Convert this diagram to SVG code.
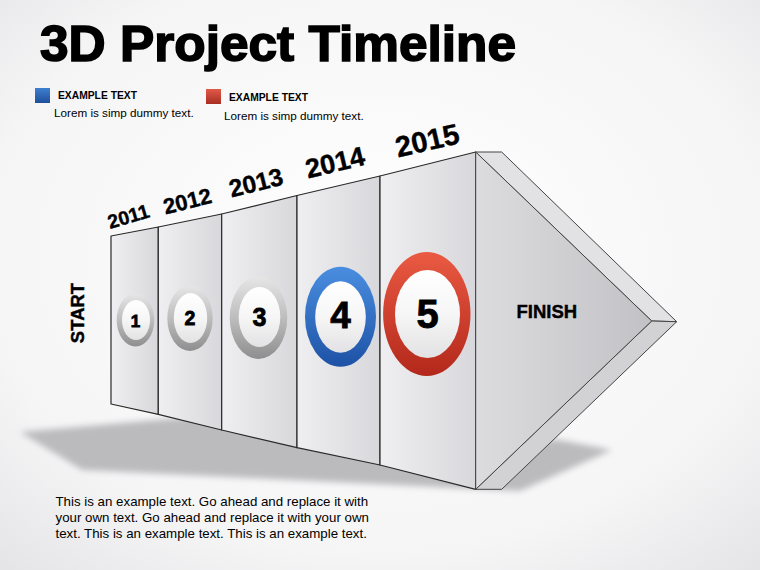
<svg xmlns="http://www.w3.org/2000/svg" width="760" height="570" viewBox="0 0 760 570">
<defs>
<radialGradient id="bg" cx="0.5" cy="0.45" r="0.75">
<stop offset="0" stop-color="#ffffff"/><stop offset="0.7" stop-color="#f5f5f6"/><stop offset="1" stop-color="#e4e4e6"/>
</radialGradient>
<linearGradient id="panel" x1="0" y1="0" x2="1" y2="0">
<stop offset="0" stop-color="#efeff1"/><stop offset="1" stop-color="#d8d8dc"/>
</linearGradient>
<linearGradient id="tri" x1="0" y1="0" x2="1" y2="0">
<stop offset="0" stop-color="#dcdcdf"/><stop offset="1" stop-color="#c2c2c6"/>
</linearGradient>
<linearGradient id="grayRing" x1="0" y1="0" x2="0" y2="1">
<stop offset="0" stop-color="#e6e6e6"/><stop offset="0.5" stop-color="#bdbdbd"/><stop offset="1" stop-color="#8e8e8e"/>
</linearGradient>
<linearGradient id="blueRing" x1="0" y1="0" x2="0" y2="1">
<stop offset="0" stop-color="#4a8ee0"/><stop offset="1" stop-color="#1d52a6"/>
</linearGradient>
<linearGradient id="redRing" x1="0" y1="0" x2="0" y2="1">
<stop offset="0" stop-color="#ea5a43"/><stop offset="1" stop-color="#b3281b"/>
</linearGradient>
<linearGradient id="inner" x1="0" y1="0" x2="0" y2="1">
<stop offset="0" stop-color="#ffffff"/><stop offset="0.5" stop-color="#f6f6f6"/><stop offset="1" stop-color="#e2e2e4"/>
</linearGradient>
<linearGradient id="blueSq" x1="0" y1="0" x2="0" y2="1">
<stop offset="0" stop-color="#3f7fd0"/><stop offset="1" stop-color="#1f4f9a"/>
</linearGradient>
<linearGradient id="redSq" x1="0" y1="0" x2="0" y2="1">
<stop offset="0" stop-color="#e05a48"/><stop offset="1" stop-color="#a82e22"/>
</linearGradient>
<filter id="blur" x="-0.1" y="-0.3" width="1.2" height="1.6"><feGaussianBlur stdDeviation="3"/></filter>
</defs>
<style>
.t{font-family:"Liberation Sans",Arial,sans-serif;fill:#000}
.b{font-weight:bold}
.panel{fill:url(#panel);stroke:#2a2a2a;stroke-width:1.2;stroke-linejoin:round}
.bevel{stroke:#444;stroke-width:1;stroke-linejoin:round}
.inner{fill:url(#inner)}
.num{font-family:"Liberation Sans",Arial,sans-serif;font-weight:bold;fill:#000;stroke:#000;stroke-width:0.8;text-anchor:middle}
.yr{font-family:"Liberation Sans",Arial,sans-serif;font-weight:bold;fill:#000;stroke:#000;stroke-width:0.4}
</style>
<rect width="760" height="570" fill="url(#bg)"/>

<g id="title">
<text class="t b" x="40" y="61" font-size="50" stroke="#000" stroke-width="1.6" textLength="476" lengthAdjust="spacingAndGlyphs">3D Project Timeline</text>
</g>

<g id="legend-blue">
<rect x="35" y="88" width="15" height="15" fill="url(#blueSq)"/>
<text class="t b" x="58" y="98.5" font-size="10.3">EXAMPLE TEXT</text>
<text class="t" x="54" y="116.5" font-size="11.7" fill="#222">Lorem is simp dummy text.</text>
</g>
<g id="legend-red">
<rect x="206" y="89" width="15" height="15" fill="url(#redSq)"/>
<text class="t b" x="229" y="101" font-size="10.3">EXAMPLE TEXT</text>
<text class="t" x="224" y="119.5" font-size="11.7" fill="#222">Lorem is simp dummy text.</text>
</g>

<g id="shadow">
<polygon points="20,432 200,416 560,440 612,450 520,491 82,470" fill="#bbbbbe" filter="url(#blur)"/>
</g>

<g id="timeline-box">
<polygon id="panel-2011" class="panel" points="111,236 158.3,227 158.3,414.3 111,404"/>
<polygon id="panel-2012" class="panel" points="158.3,227 221.7,214 221.7,430 158.3,414.3"/>
<polygon id="panel-2013" class="panel" points="221.7,214 297,195.5 297,447.7 221.7,430"/>
<polygon id="panel-2014" class="panel" points="297,195.5 380,176 380,465 297,447.7"/>
<polygon id="panel-2015" class="panel" points="380,176 475.7,152 475.7,489.3 380,465"/>
</g>

<g id="finish-arrow">
<polygon class="bevel" fill="#e2e2e4" points="475.7,152 501.7,152 676.7,321.7 651.7,321"/>
<polygon class="bevel" fill="#d2d2d5" points="651.7,321 676.7,321.7 501.7,489.3 475.7,489.3"/>
<polygon class="bevel" fill="url(#tri)" points="475.7,152 651.7,321 475.7,489.3"/>
<text class="t b" x="516.5" y="318" font-size="18.5" stroke="#000" stroke-width="0.4">FINISH</text>
</g>

<g id="start-label">
<text class="t b" x="0" y="0" font-size="18.5" text-anchor="middle" stroke="#000" stroke-width="0.4" transform="translate(84,313) rotate(-90)">START</text>
</g>

<g id="years">
<text id="y2011" class="yr" font-size="19.5" transform="translate(110,229) rotate(-16.5)">2011</text>
<text id="y2012" class="yr" font-size="22" transform="translate(165.5,214.5) rotate(-14)">2012</text>
<text id="y2013" class="yr" font-size="24.5" transform="translate(231.5,197.5) rotate(-14)">2013</text>
<text id="y2014" class="yr" font-size="27" transform="translate(308,178.5) rotate(-13.5)">2014</text>
<text id="y2015" class="yr" font-size="29" transform="translate(398,157.5) rotate(-13)">2015</text>
</g>

<g id="step-1">
<ellipse cx="135.5" cy="320" rx="18.8" ry="26.5" fill="url(#grayRing)"/>
<ellipse cx="136" cy="320" rx="14" ry="20" class="inner"/>
<text class="num" x="135.5" y="327" font-size="17">1</text>
</g>
<g id="step-2">
<ellipse cx="190" cy="318.3" rx="22.7" ry="32.7" fill="url(#grayRing)"/>
<ellipse cx="190.5" cy="318" rx="16.7" ry="25" class="inner"/>
<text class="num" x="190" y="325" font-size="19.5">2</text>
</g>
<g id="step-3">
<ellipse cx="258.5" cy="317.8" rx="28.8" ry="41.2" fill="url(#grayRing)"/>
<ellipse cx="259.5" cy="317" rx="20.8" ry="30" class="inner"/>
<text class="num" x="259.5" y="326" font-size="25">3</text>
</g>
<g id="step-4">
<ellipse cx="340.5" cy="316.7" rx="35.5" ry="50" fill="url(#blueRing)"/>
<ellipse cx="340.5" cy="317" rx="25.3" ry="35.8" class="inner"/>
<text class="num" x="340.5" y="328.3" font-size="37">4</text>
</g>
<g id="step-5">
<ellipse cx="426.8" cy="314" rx="43.7" ry="62" fill="url(#redRing)"/>
<ellipse cx="427.5" cy="314" rx="32.5" ry="44" class="inner"/>
<text class="num" x="427.5" y="328.3" font-size="40">5</text>
</g>

<g id="connectors"/>

<g id="description">
<text class="t" font-size="13.3" fill="#111">
<tspan x="55.5" y="505.5">This is an example text. Go ahead and replace it with</tspan>
<tspan x="55.5" y="521.5">your own text. Go ahead and replace it with your own</tspan>
<tspan x="55.5" y="537.5">text. This is an example text. This is an example text.</tspan>
</text>
</g>
</svg>
